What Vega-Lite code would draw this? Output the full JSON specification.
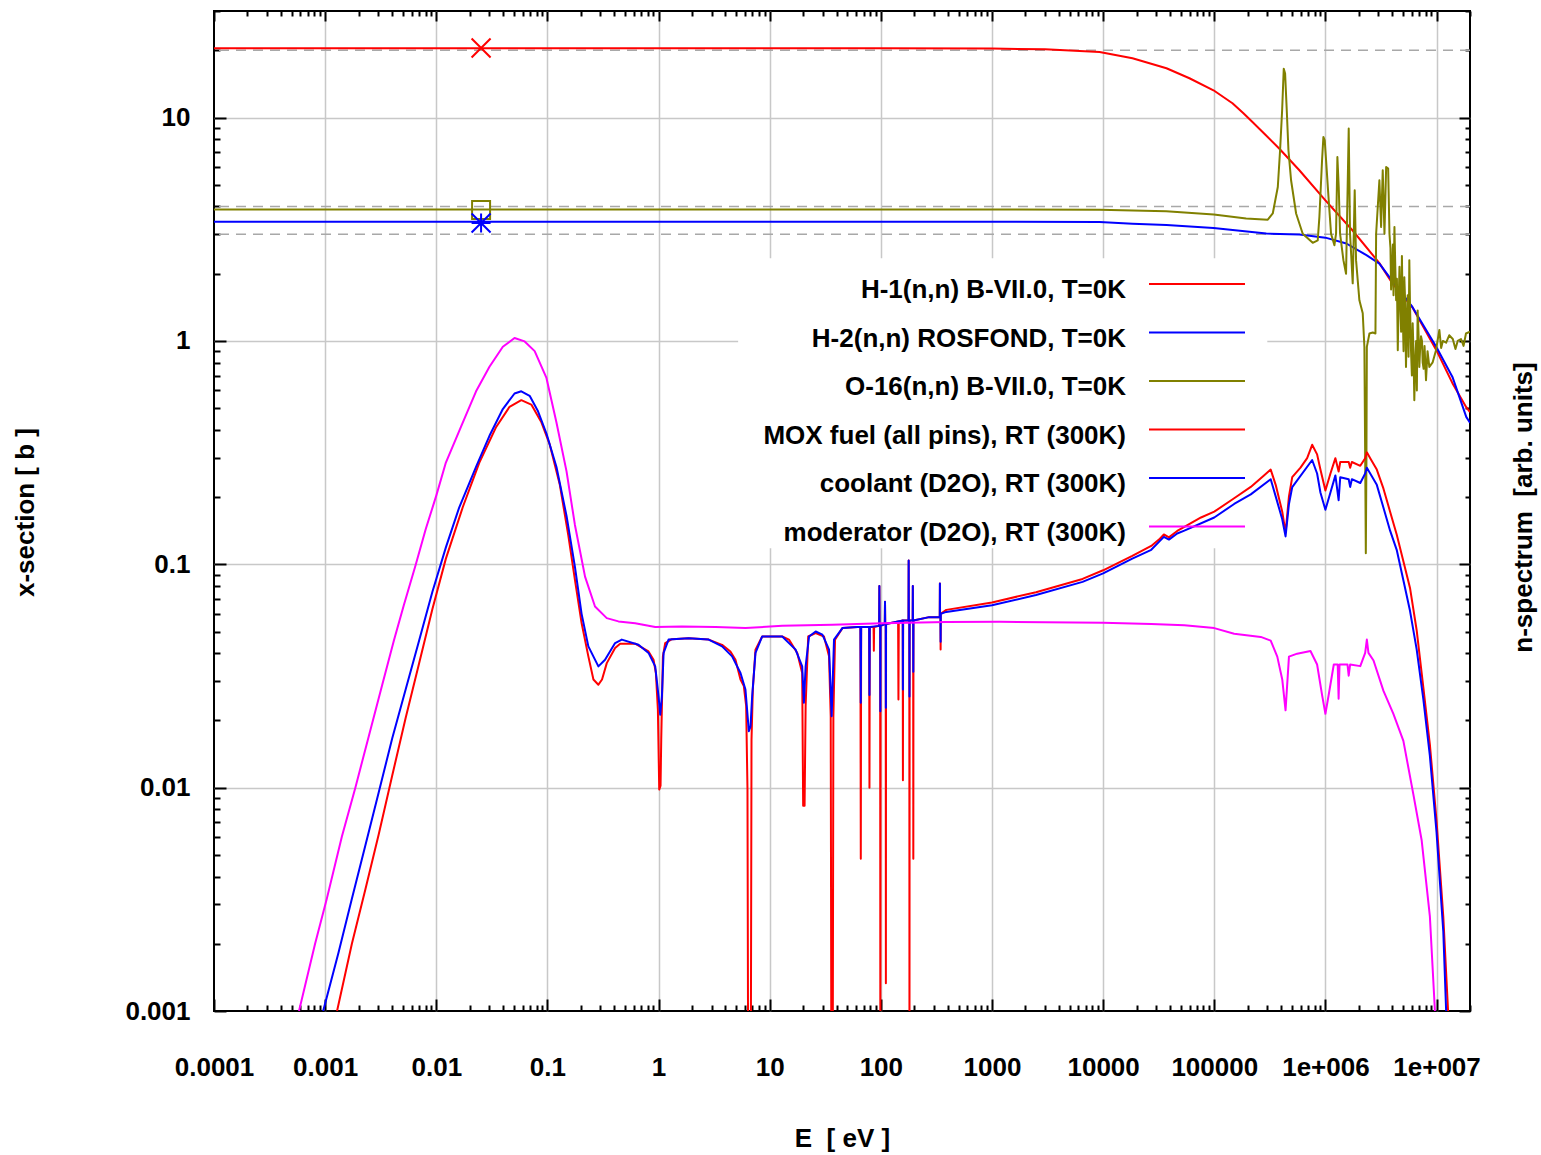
{
  "$schema": "https://vega.github.io/schema/vega-lite/v6.json",
  "width": 1256,
  "height": 1000,
  "autosize": {"type": "none"},
  "padding": {"left": 214, "top": 11, "right": 71, "bottom": 144},
  "background": "white",
  "config": {
    "font": "Liberation Sans",
    "view": {"stroke": "black", "strokeWidth": 2}
  },
  "datasets": {
    "curves": [
      {"s":"a","e":1e-4,"v":20.45},{"s":"a","e":1,"v":20.45},{"s":"a","e":100,"v":20.43},{"s":"a","e":1000,"v":20.36},{"s":"a","e":3000,"v":20.2},{"s":"a","e":9290,"v":19.66},{"s":"a","e":18370,"v":18.43},{"s":"a","e":37150,"v":16.62},{"s":"a","e":59800,"v":15.0},{"s":"a","e":98400,"v":13.25},{"s":"a","e":145800,"v":11.59},{"s":"a","e":183000,"v":10.45},{"s":"a","e":220600,"v":9.55},{"s":"a","e":290000,"v":8.35},{"s":"a","e":385600,"v":7.25},{"s":"a","e":583000,"v":5.81},{"s":"a","e":1e6,"v":4.26},{"s":"a","e":1.75e6,"v":3.13},{"s":"a","e":3.06e6,"v":2.23},{"s":"a","e":4.01e6,"v":1.81},{"s":"a","e":6.06e6,"v":1.415},{"s":"a","e":9.96e6,"v":0.909},{"s":"a","e":1.39e7,"v":0.647},{"s":"a","e":1.85e7,"v":0.505},{"s":"a","e":2e7,"v":0.48},
      {"s":"b","e":1e-4,"v":3.42},{"s":"b","e":1000,"v":3.42},{"s":"b","e":9290,"v":3.41},{"s":"b","e":18370,"v":3.35},{"s":"b","e":37150,"v":3.30},{"s":"b","e":98400,"v":3.20},{"s":"b","e":294000,"v":3.025},{"s":"b","e":583000,"v":2.995},{"s":"b","e":1e6,"v":2.90},{"s":"b","e":1.545e6,"v":2.73},{"s":"b","e":2.34e6,"v":2.42},{"s":"b","e":3.06e6,"v":2.22},{"s":"b","e":3.77e6,"v":1.93},{"s":"b","e":6.06e6,"v":1.42},{"s":"b","e":9.96e6,"v":0.94},{"s":"b","e":1.39e7,"v":0.69},{"s":"b","e":1.85e7,"v":0.457},{"s":"b","e":2e7,"v":0.43},
      {"s":"c","e":1e-4,"v":3.88},{"s":"c","e":1000,"v":3.88},{"s":"c","e":9290,"v":3.87},{"s":"c","e":36900,"v":3.81},{"s":"c","e":99000,"v":3.68},{"s":"c","e":193600,"v":3.53},{"s":"c","e":303000,"v":3.49},{"s":"c","e":336000,"v":3.72},{"s":"c","e":373000,"v":4.89},{"s":"c","e":391000,"v":7.14},{"s":"c","e":408000,"v":10.78},{"s":"c","e":422000,"v":16.56},{"s":"c","e":434000,"v":15.73},{"s":"c","e":449000,"v":10.78},{"s":"c","e":465000,"v":7.14},{"s":"c","e":491000,"v":5.24},{"s":"c","e":545000,"v":3.72},{"s":"c","e":625000,"v":3.02},{"s":"c","e":769000,"v":2.75},{"s":"c","e":853000,"v":2.82},{"s":"c","e":883000,"v":3.59},{"s":"c","e":933000,"v":6.44},{"s":"c","e":959000,"v":8.19},{"s":"c","e":986000,"v":7.91},{"s":"c","e":1.014e6,"v":6.44},{"s":"c","e":1.071e6,"v":4.26},{"s":"c","e":1.124e6,"v":3.02},{"s":"c","e":1.205e6,"v":2.68},{"s":"c","e":1.247e6,"v":3.02},{"s":"c","e":1.282e6,"v":6.66},{"s":"c","e":1.318e6,"v":4.89},{"s":"c","e":1.355e6,"v":3.02},{"s":"c","e":1.452e6,"v":2.30},{"s":"c","e":1.534e6,"v":2.00},{"s":"c","e":1.621e6,"v":8.93},{"s":"c","e":1.666e6,"v":3.02},{"s":"c","e":1.761e6,"v":1.81},{"s":"c","e":1.835e6,"v":4.73},{"s":"c","e":1.887e6,"v":2.30},{"s":"c","e":2.022e6,"v":1.52},{"s":"c","e":2.167e6,"v":1.33},{"s":"c","e":2.243e6,"v":0.94},{"s":"c","e":2.28e6,"v":0.30},{"s":"c","e":2.31e6,"v":0.112},{"s":"c","e":2.34e6,"v":0.30},{"s":"c","e":2.36e6,"v":0.94},{"s":"c","e":2.49e6,"v":1.08},{"s":"c","e":2.67e6,"v":1.09},{"s":"c","e":2.82e6,"v":1.08},{"s":"c","e":2.86e6,"v":3.02},{"s":"c","e":3.06e6,"v":5.24},{"s":"c","e":3.17e6,"v":3.24},{"s":"c","e":3.28e6,"v":5.81},{"s":"c","e":3.40e6,"v":3.02},{"s":"c","e":3.52e6,"v":6.01},{"s":"c","e":3.67e6,"v":5.91},{"s":"c","e":3.77e6,"v":3.02},{"s":"c","e":3.85e6,"v":2.6},{"s":"c","e":3.9e6,"v":1.7},{"s":"c","e":3.98e6,"v":2.00},{"s":"c","e":4.05e6,"v":2.7},{"s":"c","e":4.1e6,"v":1.6},{"s":"c","e":4.18e6,"v":3.24},{"s":"c","e":4.25e6,"v":2.2},{"s":"c","e":4.33e6,"v":1.52},{"s":"c","e":4.4e6,"v":1.9},{"s":"c","e":4.48e6,"v":0.909},{"s":"c","e":4.55e6,"v":1.4},{"s":"c","e":4.64e6,"v":2.15},{"s":"c","e":4.7e6,"v":1.6},{"s":"c","e":4.80e6,"v":1.1},{"s":"c","e":4.88e6,"v":2.4},{"s":"c","e":4.97e6,"v":1.28},{"s":"c","e":5.05e6,"v":0.9},{"s":"c","e":5.13e6,"v":1.93},{"s":"c","e":5.22e6,"v":1.5},{"s":"c","e":5.31e6,"v":0.765},{"s":"c","e":5.4e6,"v":1.2},{"s":"c","e":5.50e6,"v":1.6},{"s":"c","e":5.6e6,"v":0.85},{"s":"c","e":5.69e6,"v":2.30},{"s":"c","e":5.78e6,"v":1.4},{"s":"c","e":5.89e6,"v":0.909},{"s":"c","e":6.0e6,"v":0.7},{"s":"c","e":6.10e6,"v":1.2},{"s":"c","e":6.2e6,"v":0.9},{"s":"c","e":6.31e6,"v":0.543},{"s":"c","e":6.4e6,"v":0.75},{"s":"c","e":6.55e6,"v":1.0},{"s":"c","e":6.65e6,"v":0.6},{"s":"c","e":6.76e6,"v":1.37},{"s":"c","e":6.88e6,"v":1.1},{"s":"c","e":7.00e6,"v":0.765},{"s":"c","e":7.1e6,"v":0.9},{"s":"c","e":7.25e6,"v":1.05},{"s":"c","e":7.4e6,"v":1.0},{"s":"c","e":7.50e6,"v":0.802},{"s":"c","e":7.65e6,"v":0.75},{"s":"c","e":7.8e6,"v":0.95},{"s":"c","e":8.04e6,"v":0.667},{"s":"c","e":8.3e6,"v":0.9},{"s":"c","e":8.61e6,"v":0.765},{"s":"c","e":9.23e6,"v":0.802},{"s":"c","e":9.89e6,"v":0.909},{"s":"c","e":1.06e7,"v":1.12},{"s":"c","e":1.1e7,"v":0.93},{"s":"c","e":1.14e7,"v":1.00},{"s":"c","e":1.22e7,"v":0.982},{"s":"c","e":1.3e7,"v":1.06},{"s":"c","e":1.40e7,"v":1.02},{"s":"c","e":1.48e7,"v":0.92},{"s":"c","e":1.55e7,"v":1.00},{"s":"c","e":1.66e7,"v":1.02},{"s":"c","e":1.75e7,"v":0.95},{"s":"c","e":1.84e7,"v":1.08},{"s":"c","e":2e7,"v":1.10},
      {"s":"d","e":1.28e-3,"v":0.001},{"s":"d","e":1.74e-3,"v":0.002},{"s":"d","e":2.30e-3,"v":0.0035},{"s":"d","e":3.04e-3,"v":0.0062},{"s":"d","e":4.01e-3,"v":0.0113},{"s":"d","e":5.30e-3,"v":0.0205},{"s":"d","e":7.0e-3,"v":0.036},{"s":"d","e":9.23e-3,"v":0.063},{"s":"d","e":0.0122,"v":0.106},{"s":"d","e":0.0173,"v":0.180},{"s":"d","e":0.0244,"v":0.285},{"s":"d","e":0.0346,"v":0.412},{"s":"d","e":0.0456,"v":0.507},{"s":"d","e":0.0582,"v":0.543},{"s":"d","e":0.0716,"v":0.519},{"s":"d","e":0.0883,"v":0.432},{"s":"d","e":0.105,"v":0.343},{"s":"d","e":0.1293,"v":0.227},{"s":"d","e":0.154,"v":0.135},{"s":"d","e":0.177,"v":0.085},{"s":"d","e":0.203,"v":0.0546},{"s":"d","e":0.2335,"v":0.0387},{"s":"d","e":0.2594,"v":0.0305},{"s":"d","e":0.2874,"v":0.0289},{"s":"d","e":0.31,"v":0.0305},{"s":"d","e":0.342,"v":0.0361},{"s":"d","e":0.4064,"v":0.0422},{"s":"d","e":0.451,"v":0.0441},{"s":"d","e":0.616,"v":0.0441},{"s":"d","e":0.812,"v":0.0407},{"s":"d","e":0.901,"v":0.0374},{"s":"d","e":0.946,"v":0.0326},{"s":"d","e":0.986,"v":0.0224},{"s":"d","e":1.014,"v":0.0098},{"s":"d","e":1.042,"v":0.0102},{"s":"d","e":1.057,"v":0.0164},{"s":"d","e":1.094,"v":0.0387},{"s":"d","e":1.148,"v":0.0444},{"s":"d","e":1.32,"v":0.0462},{"s":"d","e":1.865,"v":0.0467},{"s":"d","e":2.825,"v":0.046},{"s":"d","e":3.73,"v":0.0436},{"s":"d","e":4.43,"v":0.0407},{"s":"d","e":4.92,"v":0.0374},{"s":"d","e":5.46,"v":0.0305},{"s":"d","e":5.85,"v":0.0285},{"s":"d","e":6.14,"v":0.0232},{"s":"d","e":6.31,"v":0.0098},{"s":"d","e":6.40,"v":0.0005},{"s":"d","e":6.76,"v":0.0005},{"s":"d","e":6.86,"v":0.0164},{"s":"d","e":7.05,"v":0.0275},{"s":"d","e":7.45,"v":0.0415},{"s":"d","e":8.56,"v":0.0475},{"s":"d","e":12.97,"v":0.0475},{"s":"d","e":14.9,"v":0.046},{"s":"d","e":17.7,"v":0.0401},{"s":"d","e":19.6,"v":0.0326},{"s":"d","e":20.0,"v":0.0083},{"s":"d","e":20.6,"v":0.0083},{"s":"d","e":21.05,"v":0.0232},{"s":"d","e":22.2,"v":0.0475},{"s":"d","e":25.9,"v":0.0492},{"s":"d","e":30.8,"v":0.0475},{"s":"d","e":34.2,"v":0.0387},{"s":"d","e":35.4,"v":0.0209},{"s":"d","e":35.9,"v":0.0005},{"s":"d","e":36.9,"v":0.0005},{"s":"d","e":37.4,"v":0.0209},{"s":"d","e":38.7,"v":0.046},{"s":"d","e":45.1,"v":0.0518},{"s":"d","e":61.6,"v":0.0524},{"s":"d","e":65.5,"v":0.0524},{"s":"d","e":66,"v":0.0048},{"s":"d","e":66.5,"v":0.0524},{"s":"d","e":78.5,"v":0.0524},{"s":"d","e":79,"v":0.0100},{"s":"d","e":79.5,"v":0.0524},{"s":"d","e":86,"v":0.0524},{"s":"d","e":86.5,"v":0.041},{"s":"d","e":87,"v":0.0524},{"s":"d","e":96.5,"v":0.053},{"s":"d","e":97,"v":0.080},{"s":"d","e":97.5,"v":0.053},{"s":"d","e":98.6,"v":0.053},{"s":"d","e":99,"v":0.0005},{"s":"d","e":99.4,"v":0.053},{"s":"d","e":108.5,"v":0.054},{"s":"d","e":109,"v":0.068},{"s":"d","e":109.5,"v":0.054},{"s":"d","e":110.6,"v":0.054},{"s":"d","e":111,"v":0.00133},{"s":"d","e":111.4,"v":0.054},{"s":"d","e":143,"v":0.0555},{"s":"d","e":144,"v":0.0248},{"s":"d","e":145,"v":0.0555},{"s":"d","e":157.4,"v":0.056},{"s":"d","e":158,"v":0.0108},{"s":"d","e":158.6,"v":0.056},{"s":"d","e":177.4,"v":0.056},{"s":"d","e":178,"v":0.104},{"s":"d","e":178.6,"v":0.056},{"s":"d","e":180.4,"v":0.056},{"s":"d","e":181,"v":0.0005},{"s":"d","e":181.6,"v":0.056},{"s":"d","e":193.4,"v":0.056},{"s":"d","e":194,"v":0.080},{"s":"d","e":194.6,"v":0.056},{"s":"d","e":195.4,"v":0.056},{"s":"d","e":196,"v":0.0048},{"s":"d","e":196.6,"v":0.056},{"s":"d","e":272,"v":0.058},{"s":"d","e":339,"v":0.058},{"s":"d","e":340,"v":0.082},{"s":"d","e":341,"v":0.058},{"s":"d","e":344,"v":0.058},{"s":"d","e":345,"v":0.0415},{"s":"d","e":346,"v":0.06},{"s":"d","e":388,"v":0.0625},{"s":"d","e":1000,"v":0.0675},{"s":"d","e":2490,"v":0.075},{"s":"d","e":6530,"v":0.086},{"s":"d","e":10000,"v":0.094},{"s":"d","e":18300,"v":0.109},{"s":"d","e":27100,"v":0.1208},{"s":"d","e":31800,"v":0.129},{"s":"d","e":35200,"v":0.136},{"s":"d","e":39100,"v":0.132},{"s":"d","e":46400,"v":0.141},{"s":"d","e":53800,"v":0.147},{"s":"d","e":76000,"v":0.162},{"s":"d","e":100000,"v":0.172},{"s":"d","e":151000,"v":0.1976},{"s":"d","e":213000,"v":0.222},{"s":"d","e":280000,"v":0.250},{"s":"d","e":322000,"v":0.2655},{"s":"d","e":357000,"v":0.2268},{"s":"d","e":409000,"v":0.172},{"s":"d","e":438000,"v":0.1387},{"s":"d","e":470000,"v":0.2015},{"s":"d","e":503000,"v":0.2455},{"s":"d","e":597000,"v":0.2707},{"s":"d","e":685000,"v":0.2986},{"s":"d","e":760000,"v":0.3428},{"s":"d","e":842000,"v":0.3106},{"s":"d","e":902000,"v":0.2655},{"s":"d","e":1e6,"v":0.2138},{"s":"d","e":1.11e6,"v":0.255},{"s":"d","e":1.23e6,"v":0.2986},{"s":"d","e":1.315e6,"v":0.260},{"s":"d","e":1.36e6,"v":0.287},{"s":"d","e":1.62e6,"v":0.287},{"s":"d","e":1.67e6,"v":0.2707},{"s":"d","e":1.73e6,"v":0.287},{"s":"d","e":2.06e6,"v":0.276},{"s":"d","e":2.28e6,"v":0.2986},{"s":"d","e":2.36e6,"v":0.317},{"s":"d","e":2.53e6,"v":0.2986},{"s":"d","e":2.90e6,"v":0.2655},{"s":"d","e":3.33e6,"v":0.218},{"s":"d","e":3.82e6,"v":0.172},{"s":"d","e":4.38e6,"v":0.136},{"s":"d","e":5.03e6,"v":0.1032},{"s":"d","e":5.77e6,"v":0.0784},{"s":"d","e":6.62e6,"v":0.0508},{"s":"d","e":7.60e6,"v":0.0282},{"s":"d","e":8.71e6,"v":0.0156},{"s":"d","e":1e7,"v":0.0071},{"s":"d","e":1.15e7,"v":0.00265},{"s":"d","e":1.27e7,"v":0.001},{"s":"d","e":1.35e7,"v":0.0005},
      {"s":"e","e":9.6e-4,"v":0.001},{"s":"e","e":1.32e-3,"v":0.00183},{"s":"e","e":1.74e-3,"v":0.00318},{"s":"e","e":2.30e-3,"v":0.00551},{"s":"e","e":3.04e-3,"v":0.00955},{"s":"e","e":4.01e-3,"v":0.0166},{"s":"e","e":5.30e-3,"v":0.0275},{"s":"e","e":7.0e-3,"v":0.0455},{"s":"e","e":9.23e-3,"v":0.0754},{"s":"e","e":0.0122,"v":0.119},{"s":"e","e":0.0161,"v":0.180},{"s":"e","e":0.0228,"v":0.2727},{"s":"e","e":0.0301,"v":0.376},{"s":"e","e":0.0397,"v":0.4955},{"s":"e","e":0.0506,"v":0.5817},{"s":"e","e":0.0582,"v":0.595},{"s":"e","e":0.0692,"v":0.568},{"s":"e","e":0.0823,"v":0.484},{"s":"e","e":0.098,"v":0.385},{"s":"e","e":0.1206,"v":0.2727},{"s":"e","e":0.1486,"v":0.1646},{"s":"e","e":0.177,"v":0.097},{"s":"e","e":0.203,"v":0.060},{"s":"e","e":0.2335,"v":0.0429},{"s":"e","e":0.2874,"v":0.0349},{"s":"e","e":0.330,"v":0.0374},{"s":"e","e":0.4064,"v":0.0444},{"s":"e","e":0.467,"v":0.046},{"s":"e","e":0.66,"v":0.0436},{"s":"e","e":0.8124,"v":0.0401},{"s":"e","e":0.933,"v":0.0349},{"s":"e","e":1.0,"v":0.0256},{"s":"e","e":1.035,"v":0.0212},{"s":"e","e":1.072,"v":0.0256},{"s":"e","e":1.11,"v":0.0401},{"s":"e","e":1.23,"v":0.046},{"s":"e","e":1.865,"v":0.0467},{"s":"e","e":2.825,"v":0.046},{"s":"e","e":3.73,"v":0.0429},{"s":"e","e":4.59,"v":0.0387},{"s":"e","e":5.46,"v":0.0326},{"s":"e","e":6.05,"v":0.0275},{"s":"e","e":6.49,"v":0.0179},{"s":"e","e":6.72,"v":0.0188},{"s":"e","e":6.95,"v":0.0256},{"s":"e","e":7.45,"v":0.0401},{"s":"e","e":8.56,"v":0.0475},{"s":"e","e":12.97,"v":0.0475},{"s":"e","e":17.1,"v":0.0415},{"s":"e","e":19.6,"v":0.0349},{"s":"e","e":20.3,"v":0.0240},{"s":"e","e":21.05,"v":0.0349},{"s":"e","e":22.6,"v":0.0475},{"s":"e","e":25.9,"v":0.050},{"s":"e","e":29.8,"v":0.0484},{"s":"e","e":34.2,"v":0.0415},{"s":"e","e":36.1,"v":0.0209},{"s":"e","e":37.9,"v":0.046},{"s":"e","e":45.1,"v":0.0518},{"s":"e","e":61.6,"v":0.0524},{"s":"e","e":65.5,"v":0.0524},{"s":"e","e":66,"v":0.024},{"s":"e","e":66.5,"v":0.0524},{"s":"e","e":78.5,"v":0.0524},{"s":"e","e":79,"v":0.026},{"s":"e","e":79.5,"v":0.0524},{"s":"e","e":96.5,"v":0.053},{"s":"e","e":97,"v":0.080},{"s":"e","e":97.5,"v":0.053},{"s":"e","e":98.6,"v":0.053},{"s":"e","e":99,"v":0.022},{"s":"e","e":99.4,"v":0.053},{"s":"e","e":108.5,"v":0.054},{"s":"e","e":109,"v":0.068},{"s":"e","e":109.5,"v":0.054},{"s":"e","e":110.6,"v":0.054},{"s":"e","e":111,"v":0.0228},{"s":"e","e":111.4,"v":0.054},{"s":"e","e":157.4,"v":0.056},{"s":"e","e":158,"v":0.0275},{"s":"e","e":158.6,"v":0.056},{"s":"e","e":177.4,"v":0.056},{"s":"e","e":178,"v":0.104},{"s":"e","e":178.6,"v":0.056},{"s":"e","e":180.4,"v":0.056},{"s":"e","e":181,"v":0.0256},{"s":"e","e":181.6,"v":0.056},{"s":"e","e":193.4,"v":0.056},{"s":"e","e":194,"v":0.080},{"s":"e","e":194.6,"v":0.056},{"s":"e","e":195.4,"v":0.056},{"s":"e","e":196,"v":0.033},{"s":"e","e":196.6,"v":0.056},{"s":"e","e":272,"v":0.058},{"s":"e","e":339,"v":0.058},{"s":"e","e":340,"v":0.082},{"s":"e","e":341,"v":0.058},{"s":"e","e":344,"v":0.058},{"s":"e","e":345,"v":0.045},{"s":"e","e":346,"v":0.06},{"s":"e","e":388,"v":0.0612},{"s":"e","e":1000,"v":0.0656},{"s":"e","e":2490,"v":0.0728},{"s":"e","e":6530,"v":0.0834},{"s":"e","e":10000,"v":0.091},{"s":"e","e":18300,"v":0.106},{"s":"e","e":27100,"v":0.1161},{"s":"e","e":31800,"v":0.126},{"s":"e","e":35200,"v":0.1327},{"s":"e","e":39100,"v":0.129},{"s":"e","e":46400,"v":0.1374},{"s":"e","e":53800,"v":0.1414},{"s":"e","e":100000,"v":0.162},{"s":"e","e":151000,"v":0.1862},{"s":"e","e":213000,"v":0.2055},{"s":"e","e":322000,"v":0.2404},{"s":"e","e":357000,"v":0.2014},{"s":"e","e":409000,"v":0.159},{"s":"e","e":438000,"v":0.1333},{"s":"e","e":470000,"v":0.1862},{"s":"e","e":503000,"v":0.2215},{"s":"e","e":760000,"v":0.293},{"s":"e","e":842000,"v":0.255},{"s":"e","e":902000,"v":0.2096},{"s":"e","e":1e6,"v":0.1755},{"s":"e","e":1.11e6,"v":0.2096},{"s":"e","e":1.23e6,"v":0.250},{"s":"e","e":1.315e6,"v":0.1937},{"s":"e","e":1.36e6,"v":0.2455},{"s":"e","e":1.62e6,"v":0.2404},{"s":"e","e":1.67e6,"v":0.222},{"s":"e","e":1.73e6,"v":0.2404},{"s":"e","e":2.06e6,"v":0.2312},{"s":"e","e":2.28e6,"v":0.255},{"s":"e","e":2.36e6,"v":0.2707},{"s":"e","e":2.53e6,"v":0.255},{"s":"e","e":2.90e6,"v":0.2268},{"s":"e","e":3.33e6,"v":0.179},{"s":"e","e":3.82e6,"v":0.1414},{"s":"e","e":4.38e6,"v":0.1161},{"s":"e","e":5.03e6,"v":0.0848},{"s":"e","e":5.77e6,"v":0.0619},{"s":"e","e":6.62e6,"v":0.0417},{"s":"e","e":7.60e6,"v":0.025},{"s":"e","e":8.71e6,"v":0.01387},{"s":"e","e":1e7,"v":0.0063},{"s":"e","e":1.15e7,"v":0.00227},{"s":"e","e":1.22e7,"v":0.001},{"s":"e","e":1.3e7,"v":0.0005},
      {"s":"f","e":5.82e-4,"v":0.001},{"s":"f","e":8.12e-4,"v":0.002},{"s":"f","e":1.035e-3,"v":0.00318},{"s":"f","e":1.415e-3,"v":0.00604},{"s":"f","e":1.87e-3,"v":0.01},{"s":"f","e":2.47e-3,"v":0.017},{"s":"f","e":3.26e-3,"v":0.0288},{"s":"f","e":4.15e-3,"v":0.0455},{"s":"f","e":5.11e-3,"v":0.0657},{"s":"f","e":6.52e-3,"v":0.0993},{"s":"f","e":8.03e-3,"v":0.1434},{"s":"f","e":0.01003,"v":0.204},{"s":"f","e":0.0122,"v":0.2855},{"s":"f","e":0.01667,"v":0.412},{"s":"f","e":0.0228,"v":0.595},{"s":"f","e":0.0301,"v":0.766},{"s":"f","e":0.0397,"v":0.942},{"s":"f","e":0.0506,"v":1.03},{"s":"f","e":0.0624,"v":0.995},{"s":"f","e":0.0768,"v":0.90},{"s":"f","e":0.098,"v":0.683},{"s":"f","e":0.1206,"v":0.4315},{"s":"f","e":0.1486,"v":0.2606},{"s":"f","e":0.1768,"v":0.150},{"s":"f","e":0.218,"v":0.0881},{"s":"f","e":0.268,"v":0.0647},{"s":"f","e":0.342,"v":0.0574},{"s":"f","e":0.4356,"v":0.0555},{"s":"f","e":0.616,"v":0.0545},{"s":"f","e":0.933,"v":0.0524},{"s":"f","e":1.62,"v":0.0527},{"s":"f","e":3.25,"v":0.0524},{"s":"f","e":6.05,"v":0.0518},{"s":"f","e":12.97,"v":0.0531},{"s":"f","e":36.6,"v":0.0536},{"s":"f","e":103,"v":0.0545},{"s":"f","e":388,"v":0.0552},{"s":"f","e":1169,"v":0.0553},{"s":"f","e":10000,"v":0.0547},{"s":"f","e":27100,"v":0.054},{"s":"f","e":53800,"v":0.0533},{"s":"f","e":100000,"v":0.0518},{"s":"f","e":151000,"v":0.0489},{"s":"f","e":262000,"v":0.0473},{"s":"f","e":322000,"v":0.0455},{"s":"f","e":369000,"v":0.0386},{"s":"f","e":409000,"v":0.0305},{"s":"f","e":438000,"v":0.0222},{"s":"f","e":470000,"v":0.0386},{"s":"f","e":557000,"v":0.0398},{"s":"f","e":734000,"v":0.0409},{"s":"f","e":842000,"v":0.0356},{"s":"f","e":933000,"v":0.026},{"s":"f","e":1e6,"v":0.0214},{"s":"f","e":1.07e6,"v":0.026},{"s":"f","e":1.19e6,"v":0.0356},{"s":"f","e":1.29e6,"v":0.0356},{"s":"f","e":1.315e6,"v":0.025},{"s":"f","e":1.34e6,"v":0.0356},{"s":"f","e":1.58e6,"v":0.0356},{"s":"f","e":1.62e6,"v":0.0317},{"s":"f","e":1.67e6,"v":0.0356},{"s":"f","e":2.06e6,"v":0.035},{"s":"f","e":2.28e6,"v":0.0401},{"s":"f","e":2.36e6,"v":0.046},{"s":"f","e":2.44e6,"v":0.0401},{"s":"f","e":2.71e6,"v":0.0371},{"s":"f","e":3.33e6,"v":0.0271},{"s":"f","e":4.09e6,"v":0.0214},{"s":"f","e":5.03e6,"v":0.0162},{"s":"f","e":6.18e6,"v":0.00935},{"s":"f","e":7.34e6,"v":0.00583},{"s":"f","e":8.71e6,"v":0.00265},{"s":"f","e":9.66e6,"v":0.00101},{"s":"f","e":1.0e7,"v":0.0007}
    ]
  },
  "layer": [
    {
      "data": {"values": [{}]},
      "mark": {"type": "rect", "fill": "white"},
      "encoding": {
        "x": {"datum": 5.2, "type": "quantitative", "axis": null, "scale": {"type": "log", "domain": [0.0001, 20000000], "nice": false}},
        "x2": {"datum": 300000},
        "y": {"datum": 2.345, "type": "quantitative", "axis": null, "scale": {"type": "log", "domain": [0.001, 30], "nice": false}},
        "y2": {"datum": 0.118}
      }
    },
    {
      "data": {"values": [{"ref": 20}, {"ref": 4}, {"ref": 3}]},
      "mark": {"type": "rule", "color": "#a8a8a8", "strokeWidth": 1.5, "strokeDash": [10, 7]},
      "encoding": {
        "y": {
          "field": "ref", "type": "quantitative",
          "scale": {"type": "log", "domain": [0.001, 30], "nice": false},
          "axis": {
            "orient": "right",
            "values": [0.001,0.002,0.003,0.004,0.005,0.006,0.007,0.008,0.009,0.01,0.02,0.03,0.04,0.05,0.06,0.07,0.08,0.09,0.1,0.2,0.3,0.4,0.5,0.6,0.7,0.8,0.9,1,2,3,4,5,6,7,8,9,10,20,30],
            "labels": false,
            "domain": false,
            "grid": false,
            "tickColor": "black",
            "tickWidth": 2,
            "tickSize": {"condition": {"test": "abs(log(datum.value)/LN10-round(log(datum.value)/LN10))<0.001", "value": -11}, "value": -5},
            "title": "n-spectrum\u00a0 [arb. units]",
            "titleFont": "Liberation Sans", "titleFontSize": 26, "titleFontWeight": "bold", "titleColor": "black",
            "titleAngle": 270, "titleX": 53, "titleY": 496, "titleAlign": "center", "titleBaseline": "middle"
          }
        }
      }
    },
    {
      "data": {"name": "curves"},
      "mark": {"type": "line", "strokeWidth": 2, "clip": true, "strokeJoin": "round"},
      "encoding": {
        "x": {
          "field": "e", "type": "quantitative",
          "scale": {"type": "log", "domain": [0.0001, 20000000], "nice": false},
          "axis": {
            "orient": "bottom",
            "values": [0.0001,0.0002,0.0003,0.0004,0.0005,0.0006,0.0007,0.0008,0.0009,0.001,0.002,0.003,0.004,0.005,0.006,0.007,0.008,0.009,0.01,0.02,0.03,0.04,0.05,0.06,0.07,0.08,0.09,0.1,0.2,0.3,0.4,0.5,0.6,0.7,0.8,0.9,1,2,3,4,5,6,7,8,9,10,20,30,40,50,60,70,80,90,100,200,300,400,500,600,700,800,900,1000,2000,3000,4000,5000,6000,7000,8000,9000,10000,20000,30000,40000,50000,60000,70000,80000,90000,100000,200000,300000,400000,500000,600000,700000,800000,900000,1000000,2000000,3000000,4000000,5000000,6000000,7000000,8000000,9000000,10000000,20000000],
            "labelExpr": "abs(log(datum.value)/LN10-round(log(datum.value)/LN10))<0.001 ? (datum.value >= 1000000 ? '1e+00' + round(log(datum.value)/LN10) : format(datum.value, '')) : ''",
            "labelFlush": false,
            "labelOverlap": false,
            "labelFont": "Liberation Sans", "labelFontSize": 26, "labelFontWeight": "bold", "labelColor": "black",
            "labelBaseline": "top",
            "labelPadding": 55,
            "domain": false,
            "tickColor": "black",
            "tickWidth": 2,
            "tickSize": {"condition": {"test": "abs(log(datum.value)/LN10-round(log(datum.value)/LN10))<0.001", "value": -12}, "value": -6},
            "grid": true,
            "gridColor": "#c8c8c8",
            "gridWidth": 1.5,
            "gridOpacity": {"condition": {"test": "abs(log(datum.value)/LN10-round(log(datum.value)/LN10))<0.001 && datum.value > 0.0002", "value": 1}, "value": 0},
            "title": "E\u00a0 [ eV ]",
            "titleFont": "Liberation Sans", "titleFontSize": 26, "titleFontWeight": "bold", "titleColor": "black",
            "titleX": 628, "titleY": 127, "titleAlign": "center", "titleBaseline": "middle"
          }
        },
        "y": {
          "field": "v", "type": "quantitative",
          "scale": {"type": "log", "domain": [0.001, 30], "nice": false},
          "axis": {
            "orient": "left",
            "values": [0.001,0.002,0.003,0.004,0.005,0.006,0.007,0.008,0.009,0.01,0.02,0.03,0.04,0.05,0.06,0.07,0.08,0.09,0.1,0.2,0.3,0.4,0.5,0.6,0.7,0.8,0.9,1,2,3,4,5,6,7,8,9,10,20,30],
            "labelExpr": "abs(log(datum.value)/LN10-round(log(datum.value)/LN10))<0.001 ? format(datum.value, '') : ''",
            "labelOverlap": false,
            "labelFlush": false,
            "labelFont": "Liberation Sans", "labelFontSize": 26, "labelFontWeight": "bold", "labelColor": "black",
            "labelAlign": "right", "labelBaseline": "middle",
            "labelPadding": 36,
            "domain": false,
            "tickColor": "black",
            "tickWidth": 2,
            "tickSize": {"condition": {"test": "abs(log(datum.value)/LN10-round(log(datum.value)/LN10))<0.001", "value": -12}, "value": -6},
            "grid": true,
            "gridColor": "#c8c8c8",
            "gridWidth": 1.5,
            "gridOpacity": {"condition": {"test": "abs(log(datum.value)/LN10-round(log(datum.value)/LN10))<0.001 && datum.value > 0.002", "value": 1}, "value": 0},
            "title": "x-section [ b ]",
            "titleFont": "Liberation Sans", "titleFontSize": 26, "titleFontWeight": "bold", "titleColor": "black",
            "titleAngle": 270, "titleX": -189, "titleY": 501, "titleAlign": "center", "titleBaseline": "middle"
          }
        },
        "color": {
          "field": "s", "type": "nominal",
          "scale": {"domain": ["a","b","c","d","e","f"], "range": ["#ff0000","#0000ff","#808000","#ff0000","#0000ff","#ff00ff"]},
          "legend": {
            "orient": "none", "legendX": 934, "legendY": 260, "title": null, "padding": 0,
            "symbolType": "stroke", "symbolSize": 9216, "symbolStrokeWidth": 2,
            "labelFont": "Liberation Sans", "labelFontSize": 26, "labelFontWeight": "bold", "labelColor": "black",
            "labelAlign": "right", "labelOffset": -120, "labelLimit": 0, "rowPadding": 16.5,
            "encode": {
              "symbols": {"update": {"y": {"value": 13}}},
              "labels": {"update": {"y": {"value": 13}, "dy": {"value": 6}}}
            },
            "labelExpr": "datum.label=='a' ? 'H-1(n,n) B-VII.0, T=0K' : datum.label=='b' ? 'H-2(n,n) ROSFOND, T=0K' : datum.label=='c' ? 'O-16(n,n) B-VII.0, T=0K' : datum.label=='d' ? 'MOX fuel (all pins), RT (300K)' : datum.label=='e' ? 'coolant (D2O), RT (300K)' : 'moderator (D2O), RT (300K)'"
          }
        }
      }
    },
    {
      "data": {"values": [{"e": 0.0253, "v": 20.5}]},
      "mark": {"type": "point", "shape": "M-1,-1L1,1M1,-1L-1,1", "size": 361, "color": "#ff0000", "filled": false, "strokeWidth": 2, "opacity": 1},
      "encoding": {
        "x": {
          "field": "e", "type": "quantitative",
          "scale": {"type": "log", "domain": [0.0001, 20000000], "nice": false},
          "axis": {
            "orient": "top",
            "values": [0.0001,0.0002,0.0003,0.0004,0.0005,0.0006,0.0007,0.0008,0.0009,0.001,0.002,0.003,0.004,0.005,0.006,0.007,0.008,0.009,0.01,0.02,0.03,0.04,0.05,0.06,0.07,0.08,0.09,0.1,0.2,0.3,0.4,0.5,0.6,0.7,0.8,0.9,1,2,3,4,5,6,7,8,9,10,20,30,40,50,60,70,80,90,100,200,300,400,500,600,700,800,900,1000,2000,3000,4000,5000,6000,7000,8000,9000,10000,20000,30000,40000,50000,60000,70000,80000,90000,100000,200000,300000,400000,500000,600000,700000,800000,900000,1000000,2000000,3000000,4000000,5000000,6000000,7000000,8000000,9000000,10000000,20000000],
            "labels": false,
            "domain": false,
            "grid": false,
            "tickColor": "black",
            "tickWidth": 2,
            "tickSize": {"condition": {"test": "abs(log(datum.value)/LN10-round(log(datum.value)/LN10))<0.001", "value": -10}, "value": -5},
            "title": null
          }
        },
        "y": {"field": "v", "type": "quantitative", "axis": null}
      }
    },
    {
      "data": {"values": [{"e": 0.0253, "v": 3.86}]},
      "mark": {"type": "point", "shape": "square", "size": 324, "color": "#808000", "filled": false, "strokeWidth": 2, "opacity": 1},
      "encoding": {
        "x": {"field": "e", "type": "quantitative", "axis": null},
        "y": {"field": "v", "type": "quantitative", "axis": null}
      }
    },
    {
      "data": {"values": [{"e": 0.0253, "v": 3.37}]},
      "mark": {"type": "point", "shape": "M-1,-1L1,1M1,-1L-1,1M0,-1L0,1M-1,0L1,0", "size": 361, "color": "#0000ff", "filled": false, "strokeWidth": 2, "opacity": 1},
      "encoding": {
        "x": {"field": "e", "type": "quantitative", "axis": null},
        "y": {"field": "v", "type": "quantitative", "axis": null}
      }
    }
  ],
  "resolve": {"axis": {"x": "independent", "y": "independent"}}
}
